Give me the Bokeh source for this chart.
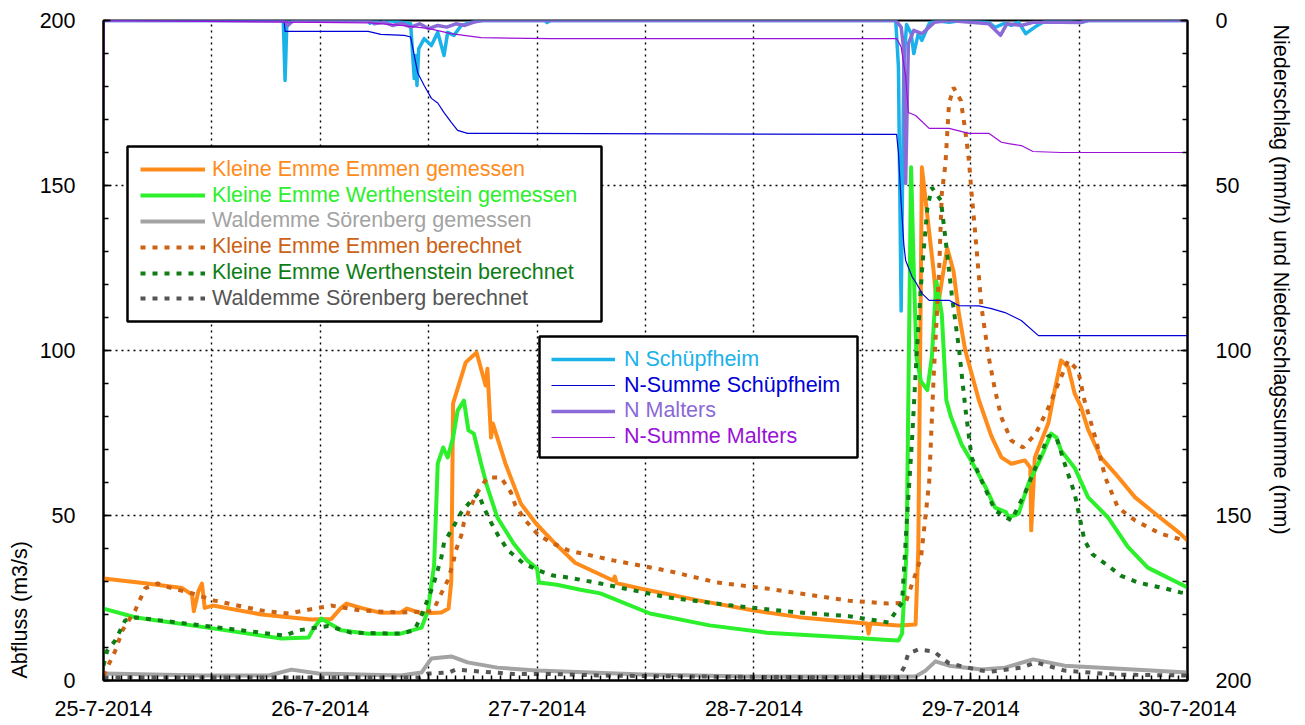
from bokeh.plotting import figure
from bokeh.models import (Range1d, LinearAxis, FixedTicker, Legend, LegendItem,
                          BoxAnnotation, Title)
from bokeh.embed import file_html
from bokeh.resources import INLINE

FONT = "Liberation Sans"
FS = "21.5px"

# ---------------- data (x = hours since 25-7-2014 00:00) ----------------
x_tick_hours = [0, 12, 24, 36, 48, 60, 72, 84, 96, 108, 120]
x_tick_labels = ["25-7-2014", "", "26-7-2014", "", "27-7-2014", "", "28-7-2014", "",
                 "29-7-2014", "", "30-7-2014"]
y_ticks = [0, 50, 100, 150, 200]

emmen_mes_x = [0, 4.6, 8.7, 9.8, 10.0, 10.5, 10.9, 11.2, 12.1, 17.5, 23.0, 25.2, 26.3, 26.9,
               28.5, 30.7, 32.9, 33.6, 35.2, 37.4, 38.2, 38.5, 38.7, 40.1, 41.3, 42.3, 42.5,
               42.9, 43.1, 44.5, 46.2, 47.9, 50.0, 52.2, 56.4, 56.6, 56.8, 59.4, 66.0, 72.0,
               77.0, 82.0, 84.5, 84.7, 84.9, 88.0, 89.9, 90.2, 90.6, 91.4, 91.9, 92.3, 92.8,
               93.4, 94.1, 94.7, 95.4, 96.9, 98.3, 99.4, 100.5, 102.0, 102.6, 102.7, 103.1,
               104.6, 105.3, 106.0, 106.8, 107.5, 108.2, 109.0, 110.4, 112.0, 114.2, 116.4,
               119.2, 120]
emmen_mes_y = [30.9, 29.5, 28.0, 26.0, 21.0, 27.0, 29.4, 22.0, 22.7, 20.0, 18.5, 18.6, 22.0,
               23.3, 22.0, 20.5, 20.6, 21.8, 20.3, 20.6, 21.8, 30.0, 84.0, 96.4, 99.4, 89.4,
               94.5, 73.6, 77.9, 65.7, 53.6, 47.5, 41.5, 35.7, 30.3, 31.5, 29.5, 27.9, 24.2,
               21.2, 19.2, 17.9, 17.3, 14.2, 17.3, 16.7, 17.0, 40.0, 155.5, 136.0, 124.0,
               112.0, 121.0, 131.0, 124.0, 111.0, 100.0, 85.0, 74.0, 67.6, 65.7, 66.7, 64.5,
               45.5, 67.6, 78.0, 88.0, 97.0, 95.0, 87.0, 83.0, 76.0, 67.6, 62.7, 55.5, 50.6,
               44.5, 42.4]

wert_mes_x = [0, 3.6, 12.1, 19.7, 22.7, 23.3, 24.1, 26.3, 29.3, 32.9, 35.2, 35.9, 36.6, 37.0,
              37.6, 38.1, 38.7, 39.2, 39.9, 40.4, 41.0, 41.8, 42.5, 43.6, 45.4, 46.9, 48.0,
              48.2, 50.2, 52.8, 55.0, 60.5, 67.1, 73.4, 82.5, 86.9, 88.0, 88.4, 88.9, 89.4,
              89.7, 90.0, 90.5, 91.2, 91.7, 92.2, 92.8, 93.3, 93.8, 95.0, 96.1, 97.6, 98.7,
              99.9, 100.2, 101.3, 102.4, 103.8, 104.9, 105.5, 106.0, 107.5, 109.0, 111.2,
              113.4, 115.6, 120]
wert_mes_y = [21.8, 19.1, 15.8, 12.7, 13.0, 16.0, 18.8, 15.2, 14.2, 14.2, 16.0, 21.0, 35.0,
              65.7, 70.6, 67.6, 73.6, 81.8, 84.8, 75.8, 74.8, 65.7, 58.5, 49.4, 41.5, 36.4,
              33.9, 29.7, 29.0, 27.5, 26.4, 20.3, 16.7, 14.5, 13.0, 12.3, 12.1, 14.2, 39.0,
              155.5, 124.0, 98.0, 90.6, 88.0, 98.0, 121.0, 111.0, 85.0, 80.0, 71.5, 66.4,
              58.8, 52.4, 51.0, 49.4, 50.6, 59.7, 67.6, 74.8, 73.6, 69.7, 64.5, 55.5, 49.4,
              40.5, 34.2, 28.2]

soer_mes_x = [0, 10.9, 18.3, 20.8, 23.8, 32.9, 35.2, 36.3, 38.5, 40.3, 43.6, 48.0, 59.7, 71.5,
              82.5, 89.9, 91.0, 92.1, 93.6, 97.2, 99.8, 102.9, 106.4, 112.0, 120]
soer_mes_y = [2.1, 1.5, 1.5, 3.3, 2.1, 1.5, 2.4, 6.7, 7.3, 5.5, 3.9, 3.0, 1.8, 1.2, 1.2, 1.2,
              3.0, 5.8, 4.5, 3.3, 3.9, 6.4, 4.5, 3.6, 2.4]

emmen_ber_x = [0, 1.3, 2.1, 3.5, 4.6, 6.0, 7.6, 9.5, 12.3, 17.5, 20.5, 23.4, 25.2, 28.5, 32.9,
               36.3, 36.6, 37.4, 38.1, 38.7, 39.0, 39.6, 39.9, 40.7, 41.4, 42.5, 44.0, 45.1,
               45.6, 46.7, 48.2, 49.8, 51.5, 56.4, 62.4, 67.9, 73.4, 82.5, 86.9, 88.8, 89.9,
               90.5, 91.4, 91.9, 92.5, 92.8, 93.2, 93.6, 94.1, 94.9, 95.4, 95.8, 96.1, 96.5,
               97.2, 98.0, 98.7, 99.4, 100.5, 101.8, 103.2, 104.6, 105.7, 106.8, 107.9, 108.6,
               109.8, 110.9, 112.3, 114.2, 117.0, 119.7]
emmen_ber_y = [1.5, 9.0, 15.2, 21.2, 27.9, 29.4, 27.9, 26.7, 24.2, 21.2, 20.3, 21.8, 22.7,
               21.2, 20.6, 21.0, 21.8, 26.4, 30.3, 35.5, 39.4, 43.9, 47.9, 53.0, 57.0, 61.5,
               61.5, 57.0, 53.0, 48.5, 43.9, 41.5, 39.4, 36.4, 33.3, 29.7, 27.9, 24.2, 23.3,
               23.6, 32.4, 37.3, 60.0, 92.0, 124.0, 147.6, 156.4, 174.8, 179.7, 175.8, 166.7,
               157.6, 147.6, 135.5, 113.0, 97.9, 87.9, 79.7, 72.7, 70.6, 74.8, 82.7, 90.0, 97.0,
               93.9, 84.8, 73.6, 61.5, 52.4, 48.5, 44.5, 42.4]

wert_ber_x = [0, 0.4, 1.3, 2.4, 3.6, 20.1, 21.6, 23.0, 24.9, 27.4, 32.9, 34.4, 35.2, 36.5,
              37.4, 37.7, 38.7, 39.6, 40.7, 41.5, 42.1, 42.9, 43.7, 44.8, 46.5, 48.2, 49.8,
              51.5, 55.0, 62.4, 69.6, 77.0, 82.5, 86.9, 88.4, 88.9, 89.5, 90.0, 90.6, 91.2,
              91.7, 92.7, 93.2, 93.9, 94.7, 95.4, 96.1, 97.2, 98.7, 100.5, 102.0, 103.5, 104.6,
              105.5, 106.4, 107.5, 108.6, 109.5, 111.2, 112.6, 114.5, 117.5, 119.2, 120]
wert_ber_y = [4.5, 9.0, 12.1, 18.2, 19.1, 13.6, 15.2, 15.8, 16.5, 14.5, 14.2, 15.2, 19.7,
              28.8, 37.3, 41.8, 46.4, 50.9, 54.5, 56.7, 52.4, 47.9, 43.9, 39.4, 35.5, 33.3,
              31.8, 31.2, 29.4, 25.2, 22.7, 20.6, 19.5, 17.6, 23.6, 47.0, 72.7, 98.0, 124.0,
              143.0, 149.4, 145.5, 134.0, 117.0, 100.6, 82.7, 67.6, 60.6, 51.5, 48.5, 56.7,
              66.7, 74.2, 73.6, 65.7, 56.7, 42.4, 38.2, 34.8, 31.8, 29.7, 27.9, 26.7, 26.5]

soer_ber_x = [0, 35.0, 35.9, 38.2, 39.0, 41.8, 45.4, 49.5, 55.0, 66.0, 82.5, 88.0, 88.6, 89.1,
              90.2, 91.9, 93.6, 97.2, 98.3, 101.6, 103.2, 106.4, 112.0, 120]
soer_ber_y = [0.9, 0.9, 2.1, 2.4, 3.3, 2.7, 2.0, 2.0, 1.5, 1.2, 0.9, 0.9, 3.9, 8.2, 9.4, 8.8,
              5.2, 3.0, 2.7, 3.9, 5.5, 3.0, 1.8, 1.5]

# precipitation (right axis, mm/h and mm)
schuepf_n_x = [0, 19.9, 20.1, 20.3, 20.5, 29.3, 29.5, 30.0, 30.7, 31.5, 33.0, 34.0, 34.4, 34.6,
               34.7, 34.9, 35.5, 36.3, 37.0, 37.7, 38.1, 38.8, 39.6, 40.7, 41.5, 48.9, 49.1,
               49.5, 87.7, 88.0, 88.3, 88.6, 88.9, 89.4, 89.7, 90.2, 90.6, 91.4, 92.0, 93.6,
               95.0, 98.0, 98.7, 99.8, 100.5, 101.3, 102.1, 103.1, 104.0, 105.0, 108.2, 109.0,
               120]
schuepf_n_y = [0, 0, 18.2, 0.5, 0, 0, 0.8, 0, 0.6, 0, 0.5, 1.0, 17.6, 10.6, 19.7, 8.5, 5.5,
               7.6, 3.6, 10.6, 3.6, 4.5, 1.5, 0.6, 0, 0, 0.6, 0, 0, 14.0, 88.0, 12.7, 1.2, 3.9,
               10.0, 4.0, 6.0, 1.0, 0, 0.5, 0, 0.6, 2.1, 0.8, 1.5, 0.5, 4.0, 2.0, 0.5, 0, 0.6,
               0, 0]

schuepf_sum_x = [0, 20.0, 20.1, 29.3, 30.7, 33.3, 34.0, 34.4, 34.8, 35.5, 36.3, 37.0, 37.7,
                 38.5, 39.2, 40.3, 87.8, 88.0, 88.3, 88.6, 88.8, 89.5, 90.0, 90.6, 91.4, 93.6,
                 94.7, 96.9, 98.3, 99.8, 101.6, 103.5, 120]
schuepf_sum_y = [0, 0, 3.3, 3.3, 4.2, 4.5, 5.0, 10.6, 16.0, 19.7, 23.6, 25.0, 27.9, 30.9, 33.3,
                 34.2, 34.5, 40.0, 55.0, 68.0, 72.7, 77.6, 79.7, 82.7, 84.8, 84.8, 86.4, 86.5,
                 87.3, 88.5, 90.9, 95.5, 95.5]

malters_n_x = [0, 20.1, 20.4, 20.8, 21.2, 29.5, 30, 31, 32, 33, 34, 35, 36, 37, 38, 39, 40, 41,
               42, 87.7, 88.3, 88.6, 88.8, 89.1, 89.7, 90.6, 91.4, 92.0, 93.6, 96.0, 98.0, 99.3,
               100.0, 101.6, 103.0, 106.0, 108.0, 109.0, 120]
malters_n_y = [0, 0, 1.5, 0.5, 0, 0, 1.0, 0.5, 1.5, 0.8, 2.0, 1.0, 2.5, 1.5, 2.0, 1.0, 1.5,
               0.5, 0, 0, 2.0, 9.0, 49.4, 7.0, 3.0, 4.0, 2.0, 0.5, 0, 0.5, 1.0, 4.5, 1.0, 1.5,
               0.5, 0.5, 0.6, 0, 0]

malters_sum_x = [0, 0.1, 20.4, 29.5, 32.9, 35.9, 38.5, 39.9, 41.8, 49.5, 87.8, 88.3, 88.8, 89.1,
                 89.9, 91.4, 93.6, 95.8, 98.0, 99.4, 100.2, 101.6, 102.9, 106.0, 120]
malters_sum_y = [32.0, 0, 0.5, 0.7, 1.5, 2.4, 4.0, 4.5, 5.2, 5.5, 5.5, 8.0, 17.0, 27.9, 28.8,
                 32.7, 32.7, 34.2, 34.2, 36.9, 37.3, 37.9, 39.7, 40.0, 40.0]

# ---------------- figure ----------------
p = figure(width=1305, height=725, output_backend="svg", toolbar_location=None,
           x_range=Range1d(0, 120), y_range=Range1d(0, 200),
           min_border_left=101, min_border_right=115, min_border_top=20, min_border_bottom=45,
           background_fill_color="white", border_fill_color="white")
p.extra_y_ranges = {"precip": Range1d(start=200, end=0)}
p.outline_line_color = "black"
p.outline_line_width = 2

right_axis = LinearAxis(y_range_name="precip")
p.add_layout(right_axis, "right")

x_ticker = FixedTicker(ticks=x_tick_hours, minor_ticks=list(range(0, 121)))
y_ticker = FixedTicker(ticks=y_ticks, minor_ticks=list(range(0, 201, 10)))

for ax in [p.xaxis[0], p.yaxis[0], right_axis]:
    ax.axis_line_color = "black"
    ax.axis_line_width = 2
    ax.major_tick_in = 7
    ax.major_tick_out = 0
    ax.minor_tick_in = 5
    ax.minor_tick_out = 0
    ax.major_tick_line_color = "black"
    ax.minor_tick_line_color = "black"
    ax.major_tick_line_width = 1.5
    ax.minor_tick_line_width = 1.5
    ax.major_label_text_font = FONT
    ax.major_label_text_font_size = FS
    ax.major_label_text_color = "black"

p.xaxis[0].ticker = x_ticker
p.xaxis[0].major_label_overrides = {h: lab for h, lab in zip(x_tick_hours, x_tick_labels)}
p.xaxis[0].major_label_standoff = 20

left_axis = p.yaxis[0]
left_axis.ticker = y_ticker
left_axis.major_label_standoff = 28

right_axis.ticker = y_ticker
right_axis.major_label_standoff = 28

p.add_layout(Title(text="Abfluss (m3/s)", align="left", vertical_align="bottom",
                   offset=2, standoff=10, text_font=FONT, text_font_size=FS,
                   text_font_style="normal", text_color="black"), "left")
p.add_layout(Title(text="Niederschlag (mm/h) und Niederschlagssumme (mm)", align="left",
                   vertical_align="top", offset=4, standoff=25, text_font=FONT,
                   text_font_size=FS, text_font_style="normal", text_color="black"), "right")

p.xgrid.ticker = FixedTicker(ticks=x_tick_hours)
p.ygrid.ticker = FixedTicker(ticks=y_ticks)
for g in [p.xgrid[0], p.ygrid[0]]:
    g.grid_line_color = "black"
    g.grid_line_dash = "2 4"
    g.grid_line_width = 1.4

C_EM = "#ff8c1a"
C_WM = "#2bf02b"
C_SM = "#a3a3a3"
C_EB = "#cc6214"
C_WB = "#0e7d16"
C_SB = "#555555"
C_NS = "#1ab2e8"
C_SS = "#0000d6"
C_NM = "#8a6ad8"
C_MS = "#9a10d8"
DASH = "5 7"

r_em = p.line(emmen_mes_x, emmen_mes_y, line_color=C_EM, line_width=4, line_join="round")
r_wm = p.line(wert_mes_x, wert_mes_y, line_color=C_WM, line_width=4, line_join="round")
r_sm = p.line(soer_mes_x, soer_mes_y, line_color=C_SM, line_width=4, line_join="round")
r_eb = p.line(emmen_ber_x, emmen_ber_y, line_color=C_EB, line_width=4, line_dash=DASH)
r_wb = p.line(wert_ber_x, wert_ber_y, line_color=C_WB, line_width=4, line_dash=DASH)
r_sb = p.line(soer_ber_x, soer_ber_y, line_color=C_SB, line_width=4, line_dash=DASH)

r_ns = p.line(schuepf_n_x, schuepf_n_y, line_color=C_NS, line_width=3.5, line_join="round",
              y_range_name="precip")
r_ss = p.line(schuepf_sum_x, schuepf_sum_y, line_color=C_SS, line_width=1.2,
              y_range_name="precip")
r_nm = p.line(malters_n_x, malters_n_y, line_color=C_NM, line_width=3.5, line_join="round",
              y_range_name="precip")
r_ms = p.line(malters_sum_x, malters_sum_y, line_color=C_MS, line_width=1.2,
              y_range_name="precip")

FRAME_H = 660  # frame height in px (layout helper)

def add_box(left, right, top, bottom):
    p.add_layout(BoxAnnotation(left=left, right=right, top=top, bottom=bottom,
                               left_units="screen", right_units="screen",
                               top_units="screen", bottom_units="screen",
                               fill_color="white", fill_alpha=1.0,
                               line_color="black", line_width=2.5, line_alpha=1.0))

def add_legend(entries, x0, first_row, row_step, glyph_w, standoff):
    for i, (r, lbl, col) in enumerate(entries):
        yc = first_row + row_step * i      # row center measured from frame top
        lg = Legend(items=[LegendItem(label=lbl, renderers=[r])],
                    location=(x0, FRAME_H - yc - 13),
                    padding=0, margin=0, spacing=0,
                    glyph_width=glyph_w, glyph_height=26, label_height=26,
                    label_standoff=standoff,
                    label_text_font=FONT, label_text_font_size=FS,
                    label_text_color=col,
                    border_line_alpha=0, background_fill_alpha=0)
        p.add_layout(lg, "center")

add_box(24, 498, 534, 359)
add_legend([(r_em, "Kleine Emme Emmen gemessen", C_EM),
            (r_wm, "Kleine Emme Werthenstein gemessen", C_WM),
            (r_sm, "Waldemme Sörenberg gemessen", C_SM),
            (r_eb, "Kleine Emme Emmen berechnet", C_EB),
            (r_wb, "Kleine Emme Werthenstein berechnet", C_WB),
            (r_sb, "Waldemme Sörenberg berechnet", C_SB)],
           37, 149.3, 25.8, 65, 7)

add_box(436, 754, 344, 223)
add_legend([(r_ns, "N Schüpfheim", C_NS),
            (r_ss, "N-Summe Schüpfheim", C_SS),
            (r_nm, "N Malters", C_NM),
            (r_ms, "N-Summe Malters", C_MS)],
           448, 339.3, 25.8, 64, 9)

open("out.html", "w").write(file_html(p, INLINE))
